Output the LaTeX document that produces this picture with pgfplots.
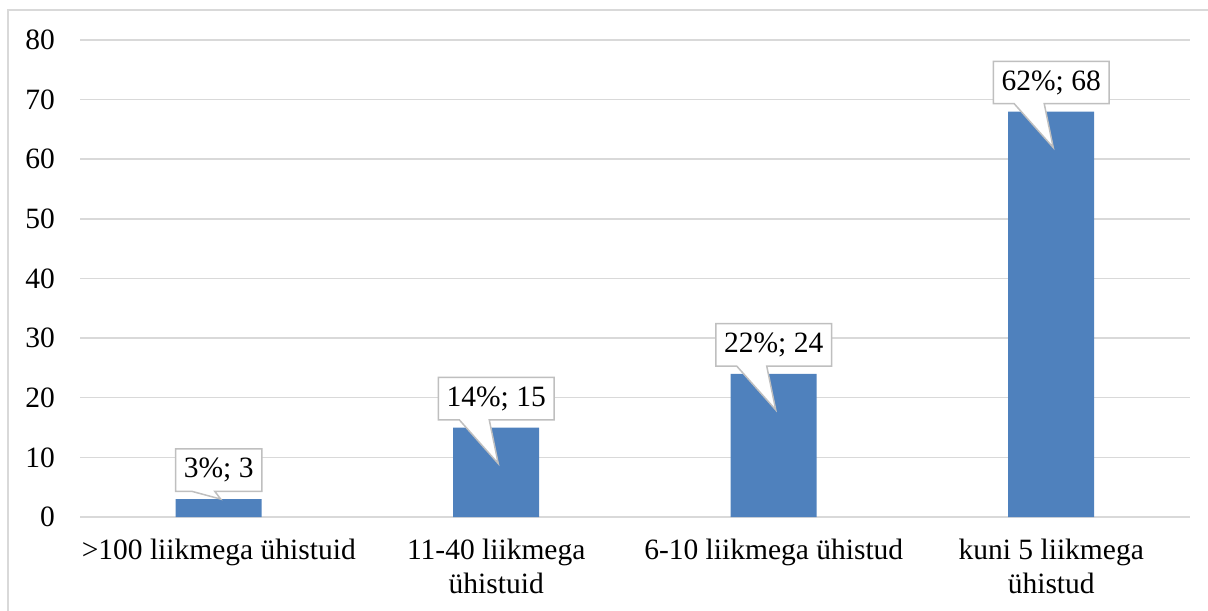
\documentclass[border=0pt]{standalone}
\usepackage{pgfplots}
\pgfplotsset{compat=1.18}
\usepackage{fontspec}
\setmainfont{Liberation Serif}
\definecolor{barblue}{HTML}{4F81BD}
\definecolor{gridgray}{HTML}{D9D9D9}
\definecolor{boxgray}{HTML}{BFBFBF}
\newcommand\callout[7]{%
  \node[inner xsep=8bp, inner ysep=0pt, minimum height=42bp, anchor=center] (#5) at ([yshift=29bp]axis cs:#1,#2) {\phantom{#3}};
  \draw[boxgray, line width=1.5bp, fill=white, line join=miter]
    (#5.north west) -- (#5.north east) -- (#5.south east)
    -- ([xshift=#7bp]#5.south) -- ([xshift=2bp, yshift=-#4bp]axis cs:#1,#2)
    -- ([xshift=#6bp]#5.south) -- (#5.south west) -- cycle;
  \node[inner xsep=8bp, inner ysep=0pt, minimum height=42bp, anchor=center] at (#5) {#3};
}
\begin{document}
\fontsize{29.5bp}{34bp}\selectfont
\begin{tikzpicture}
\useasboundingbox (0,0) rectangle (1208bp,611bp);
\draw[gridgray, line width=1.5bp] (8bp,-20bp) -- (8bp,601bp) -- (1230bp,601bp);
\begin{axis}[
  at={(80bp,94bp)}, anchor=south west,
  scale only axis, width=1110bp, height=477bp,
  xmin=-0.5, xmax=3.5, ymin=0, ymax=80,
  ytick={0,10,...,80},
  xtick={0,1,2,3},
  xticklabels={{>100 liikmega ühistuid},{11-40 liikmega\\ühistuid},{6-10 liikmega ühistud},{kuni 5 liikmega\\ühistud}},
  xticklabel style={align=center, anchor=north, inner sep=0pt, yshift=-22bp, text depth=0pt},
  yticklabel style={anchor=east, inner sep=0pt, xshift=-25bp},
  /pgf/number format/assume math mode=true,
  major tick length=0pt,
  axis line style={draw=none},
  ymajorgrids, grid style={gridgray, line width=1.5bp},
  clip=false,
  ybar, bar width=86bp,
]
\addplot[fill=barblue, draw=none] coordinates {(0,3) (1,15) (2,24) (3,68)};
\callout{0}{3}{3\%; 3}{0}{c0}{-27}{-4}
\callout{1}{15}{14\%; 15}{36}{c1}{-37}{-7}
\callout{2}{24}{22\%; 24}{36}{c2}{-37}{-7}
\callout{3}{68}{62\%; 68}{36}{c3}{-37}{-7}
\end{axis}
\end{tikzpicture}
\end{document}
